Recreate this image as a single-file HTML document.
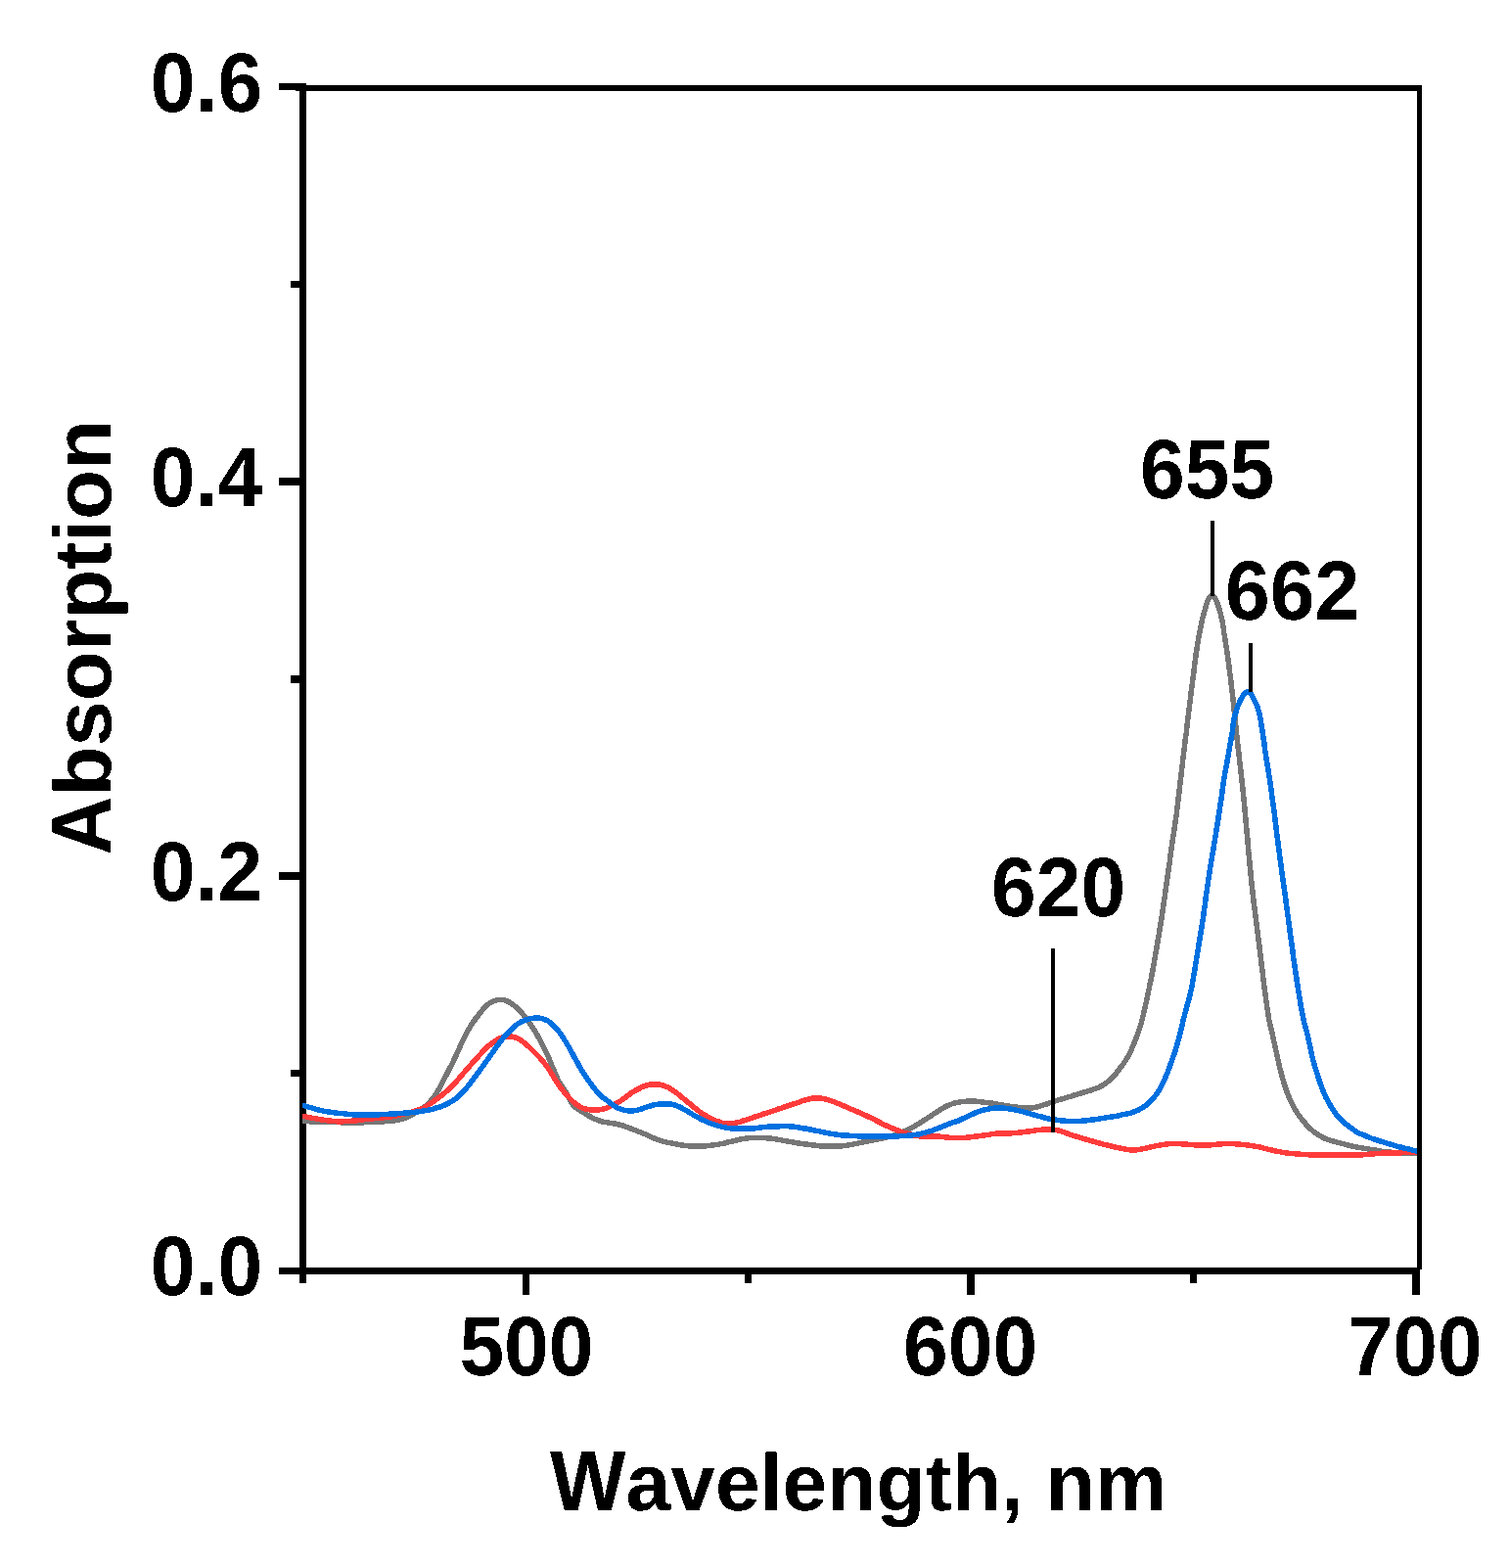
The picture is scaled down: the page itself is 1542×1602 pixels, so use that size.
<!DOCTYPE html>
<html lang="en">
<head>
<meta charset="utf-8">
<title>Absorption spectra</title>
<style>
html,body{margin:0;padding:0;background:#fff;}
body{width:1542px;height:1602px;overflow:hidden;}
#chart{position:relative;width:1542px;height:1602px;background:#fff;overflow:hidden;}
#chart svg{position:absolute;left:0;top:0;display:block;}
.t{position:absolute;margin:0;padding:0;white-space:nowrap;color:#000;
   font-family:"Liberation Sans",Arial,Helvetica,sans-serif;font-weight:700;line-height:1;
   font-kerning:none;font-variant-ligatures:none;letter-spacing:0;text-rendering:geometricPrecision;filter:url(#hardt);}
.t span{display:inline-block;}
.c{fill:none;stroke-width:5.5;stroke-linejoin:round;stroke-linecap:butt;}
</style>
</head>
<body>
<div id="chart">
<svg width="1542" height="1602" viewBox="0 0 1542 1602">
<defs>
<filter id="hard" x="0" y="0" width="100%" height="100%" filterUnits="userSpaceOnUse" color-interpolation-filters="sRGB">
<feComponentTransfer><feFuncA type="discrete" tableValues="0 1"/></feComponentTransfer>
</filter>
<filter id="hardt" x="-0.1" y="-0.4" width="1.2" height="1.8" color-interpolation-filters="sRGB">
<feComponentTransfer><feFuncA type="discrete" tableValues="0 1"/></feComponentTransfer>
</filter>
</defs>
<rect width="1542" height="1602" fill="#fff"/>
<g fill="#000" shape-rendering="crispEdges">
<rect x="306" y="85" width="7" height="1226"/>
<rect x="302" y="87" width="1151" height="6"/>
<rect x="1448" y="87" width="5" height="1210"/>
<rect x="285" y="1295" width="1166" height="7"/>
<rect x="285" y="85" width="28" height="7"/>
<rect x="285" y="488" width="28" height="8"/>
<rect x="285" y="891" width="28" height="8"/>
<rect x="297" y="287" width="16" height="7"/>
<rect x="297" y="690" width="16" height="8"/>
<rect x="297" y="1093" width="16" height="7"/>
<rect x="534" y="1295" width="7" height="28"/>
<rect x="988" y="1295" width="8" height="28"/>
<rect x="1443" y="1295" width="8" height="28"/>
<rect x="761" y="1295" width="7" height="16"/>
<rect x="1216" y="1295" width="7" height="16"/>
</g>
<clipPath id="plot"><rect x="309" y="93" width="1139" height="1202"/></clipPath>
<g class="c" clip-path="url(#plot)">
<path filter="url(#hard)" stroke="#767676" d="M303.5 1145.2l6 0.2l1.1 0l1.2 0.1l1.5 0l1.5 0.1l1.6 0.1l1.8 0l1.9 0.1l1.9 0.1l2.1 0l2 0.1l2.2 0.1l2.2 0.1l2.2 0.1l2.3 0l2.2 0.1l2.2 0.1l2.2 0l2.2 0.1l2.1 0l2 0.1l2.1 -0l2 0l2 0l2 0l2.1 0l2 0l2.1 0l2 0l2.1 0l2 0l2 -0l2.1 -0l1.9 -0.1l2 -0l1.9 -0.1l2 -0l1.8 -0.1l1.9 -0l1.8 -0.1l1.7 -0.1l1.8 -0.2l2 -0.1l1.9 -0.2l2.1 -0.1l2.2 -0.2l2.1 -0.2l2 -0.2l1.9 -0.3l1.9 -0.2l1.8 -0.4l1.8 -0.3l1.6 -0.4l1.7 -0.4l1.5 -0.5l1.7 -0.7l1.7 -0.8l1.8 -0.9l1.7 -1l1.7 -0.9l1.6 -1l1.4 -0.8l1.4 -0.8l1.3 -0.8l1.4 -0.8l1.3 -0.9l1.4 -0.9l1.3 -0.9l1.3 -1l1.2 -1.1l1.3 -1.2l1.2 -1.2l1.2 -1.3l1.2 -1.4l1.1 -1.4l1.2 -1.5l1 -1.5l1.1 -1.6l1 -1.7l1 -1.7l1 -1.7l1 -1.7l1 -1.8l0.9 -1.8l1 -1.8l1 -1.8l0.9 -1.8l0.9 -1.7l0.9 -1.8l0.9 -1.8l0.9 -1.7l0.9 -1.7l0.9 -1.7l0.8 -1.7l0.9 -1.7l0.8 -1.6l0.8 -1.6l0.8 -1.6l0.7 -1.5l0.8 -1.6l0.7 -1.5l0.7 -1.5l0.7 -1.6l0.7 -1.7l0.8 -1.7l0.8 -1.7l0.7 -1.7l0.8 -1.8l0.8 -1.7l0.8 -1.7l0.8 -1.7l0.8 -1.6l0.8 -1.6l0.8 -1.7l0.9 -1.7l0.9 -1.7l1 -1.7l1 -1.6l0.9 -1.6l1 -1.6l1 -1.5l1 -1.5l1 -1.5l1.1 -1.5l1.1 -1.5l1.2 -1.4l1.1 -1.5l1.1 -1.5l1.2 -1.5l1.2 -1.5l1.3 -1.5l1.3 -1.5l1.3 -1.4l1.4 -1.3l1.4 -1.1l1.5 -1l1.5 -0.9l1.6 -0.7l1.6 -0.7l1.6 -0.5l1.6 -0.4l1.6 -0.2l1.6 -0.1l1.7 0.1l1.6 0.3l1.6 0.5l1.6 0.6l1.6 0.8l1.6 0.9l1.6 1.1l1.5 1.1l1.4 1.2l1.4 1.2l1.4 1.2l1.3 1.2l1.3 1.3l1.3 1.4l1.2 1.4l1.2 1.4l1.1 1.4l1.1 1.4l1.2 1.5l1.1 1.5l1.1 1.5l1 1.5l1 1.6l1 1.5l1 1.5l1 1.5l1 1.6l0.9 1.6l1 1.6l0.9 1.7l0.9 1.6l0.9 1.6l0.9 1.7l0.9 1.7l0.8 1.7l0.9 1.7l0.9 1.7l0.8 1.7l0.9 1.7l0.9 1.8l0.8 1.8l0.9 1.9l0.9 1.9l0.8 2.1l0.9 2.1l0.9 2.1l0.8 2.1l0.9 2.1l0.9 2.1l0.8 2l0.9 2.1l0.9 2l0.8 1.8l0.9 1.8l0.8 1.6l0.9 1.5l0.9 1.4l0.9 1.4l0.9 1.4l0.9 1.4l0.9 1.4l0.9 1.4l0.9 1.3l0.8 1.4l0.9 1.5l0.8 1.5l0.8 1.5l0.8 1.7l0.8 1.6l0.9 1.6l1.1 1.5l1.1 1.3l1.3 1.3l1.5 1.2l1.6 1.1l1.6 1l1.7 1.1l1.8 1.1l1.7 1l1.6 1.1l1.6 0.9l1.6 1l1.5 0.8l1.5 0.9l1.6 0.8l1.6 0.7l1.7 0.7l1.7 0.7l1.7 0.5l1.7 0.5l1.7 0.3l1.7 0.3l1.8 0.3l1.8 0.2l1.9 0.3l1.8 0.3l1.9 0.3l1.8 0.3l1.8 0.4l1.8 0.5l1.7 0.5l1.8 0.5l1.7 0.6l1.8 0.6l1.7 0.6l1.8 0.7l1.7 0.6l1.8 0.7l1.7 0.7l1.7 0.7l1.8 0.7l1.7 0.7l1.8 0.7l1.8 0.8l1.8 0.7l1.8 0.8l1.7 0.8l1.8 0.8l1.7 0.8l1.8 0.7l1.8 0.7l1.8 0.7l1.9 0.6l1.9 0.6l1.9 0.6l2 0.5l1.9 0.5l1.9 0.4l2 0.4l1.9 0.4l2 0.3l1.9 0.4l2 0.4l1.9 0.3l2 0.3l1.9 0.3l2 0.2l1.9 0.2l2 0.1l1.9 0.2l2 0l1.9 0.1l1.9 0l2 -0l1.9 -0.1l2 -0l1.9 -0.2l1.9 -0.1l2 -0.2l1.9 -0.2l1.9 -0.2l1.9 -0.3l1.9 -0.2l1.9 -0.3l1.8 -0.4l1.9 -0.4l1.8 -0.4l1.8 -0.4l1.8 -0.4l1.8 -0.4l1.7 -0.4l1.7 -0.5l1.8 -0.4l1.9 -0.4l1.8 -0.4l1.9 -0.5l1.8 -0.4l1.8 -0.3l1.8 -0.4l1.7 -0.2l1.9 -0.2l1.8 -0.2l1.8 -0.1l1.9 -0.1l1.8 0l1.9 0l1.8 0l1.9 0.1l1.8 0l1.9 0.1l1.8 0.2l1.9 0.1l1.8 0.2l1.9 0.2l1.9 0.3l1.9 0.2l1.9 0.3l1.8 0.4l1.9 0.3l1.8 0.3l1.9 0.3l1.9 0.4l1.8 0.3l1.9 0.3l1.9 0.4l1.8 0.3l1.9 0.3l1.7 0.3l1.8 0.2l1.7 0.3l1.8 0.2l1.9 0.3l1.9 0.3l2 0.3l1.9 0.3l1.9 0.3l1.8 0.2l2 0.2l2 0.2l2 0.2l2 0.2l2.1 0.1l2 0.1l2 0.1l1.9 0.1l2 -0l2 -0.1l1.9 -0l2 -0.1l1.9 -0.1l2 -0.1l1.9 -0.2l2 -0.2l1.9 -0.3l1.9 -0.2l2 -0.4l1.9 -0.3l2 -0.4l1.9 -0.4l1.9 -0.4l2 -0.5l1.9 -0.4l2 -0.4l1.9 -0.4l2 -0.4l2 -0.4l2.1 -0.4l2 -0.4l2 -0.4l2 -0.4l2 -0.4l1.8 -0.3l1.9 -0.5l1.9 -0.4l1.9 -0.5l1.9 -0.5l1.9 -0.5l1.8 -0.6l1.7 -0.5l1.7 -0.6l1.7 -0.6l1.7 -0.6l1.6 -0.6l1.7 -0.6l1.6 -0.6l1.6 -0.7l1.7 -0.7l1.6 -0.7l1.6 -0.8l1.6 -0.8l1.7 -0.9l1.6 -1l1.6 -1l1.6 -1l1.7 -1l1.6 -1l1.6 -1l1.6 -1.1l1.6 -1l1.6 -1.1l1.7 -1l1.6 -1.1l1.6 -1l1.6 -1.1l1.6 -1l1.6 -1.1l1.6 -1l1.7 -1.1l1.6 -1l1.6 -1l1.7 -1l1.6 -0.8l1.8 -0.8l1.7 -0.8l1.9 -0.6l1.9 -0.6l1.8 -0.5l1.9 -0.4l1.8 -0.3l1.8 -0.3l1.8 -0.3l1.8 -0.2l1.8 -0.1l1.9 -0.1l1.9 -0.1l1.9 0l1.9 0l1.9 0.1l1.8 0.1l1.9 0.2l2 0.2l2.1 0.3l2 0.2l2.1 0.3l2 0.3l2 0.2l1.9 0.3l2 0.3l2 0.4l1.9 0.3l2 0.3l1.9 0.4l2 0.3l1.9 0.3l2 0.3l1.9 0.3l2 0.3l2 0.3l2 0.3l2.1 0.2l2 0.3l2 0.2l1.9 0.2l1.8 0.1l1.9 0l1.9 0l1.9 -0.1l1.9 -0.2l1.9 -0.3l1.8 -0.4l1.8 -0.4l1.7 -0.5l1.7 -0.5l1.6 -0.5l1.6 -0.5l1.5 -0.5l1.6 -0.6l1.5 -0.6l1.7 -0.6l1.7 -0.6l1.7 -0.6l1.7 -0.5l1.7 -0.5l1.7 -0.5l1.7 -0.5l1.8 -0.6l1.8 -0.5l1.9 -0.6l1.8 -0.5l1.9 -0.6l1.8 -0.5l1.8 -0.6l1.8 -0.6l1.9 -0.5l1.8 -0.6l1.9 -0.5l1.8 -0.6l1.8 -0.5l1.8 -0.5l1.8 -0.6l1.7 -0.5l1.7 -0.6l1.7 -0.6l1.7 -0.6l1.7 -0.6l1.7 -0.7l1.6 -0.6l1.5 -0.7l1.5 -0.8l1.5 -0.9l1.5 -1l1.5 -1.1l1.5 -1.1l1.5 -1.3l1.5 -1.3l1.4 -1.4l1.5 -1.5l1.4 -1.6l1.3 -1.7l1.4 -1.7l1.2 -1.7l1.3 -1.7l1.2 -1.6l1.1 -1.5l1.2 -1.5l1.1 -1.6l1.1 -1.7l1.1 -1.7l0.9 -1.7l1 -1.7l0.8 -1.7l0.9 -1.6l0.8 -1.8l0.8 -1.8l0.7 -1.8l0.8 -1.8l0.8 -1.8l0.7 -1.8l0.7 -1.8l0.7 -1.7l0.6 -1.7l0.7 -1.7l0.6 -1.7l0.6 -1.7l0.5 -1.6l0.5 -1.6l0.5 -1.6l0.5 -1.7l0.6 -1.8l0.4 -1.8l0.5 -1.8l0.5 -1.8l0.4 -1.8l0.5 -1.7l0.4 -1.8l0.4 -1.9l0.4 -1.8l0.5 -1.9l0.4 -2l0.4 -1.9l0.5 -2l0.4 -1.9l0.4 -2l0.4 -1.9l0.4 -1.8l0.4 -1.9l0.4 -1.9l0.4 -1.8l0.4 -1.9l0.3 -1.8l0.4 -1.9l0.4 -1.8l0.4 -1.9l0.3 -1.8l0.4 -1.9l0.3 -1.8l0.4 -1.9l0.4 -1.8l0.3 -1.9l0.3 -1.8l0.4 -1.9l0.3 -1.8l0.3 -1.9l0.4 -1.8l0.3 -1.9l0.3 -1.8l0.3 -1.9l0.3 -1.8l0.4 -1.9l0.3 -1.8l0.3 -1.9l0.3 -1.8l0.3 -1.9l0.3 -1.8l0.3 -1.9l0.4 -1.8l0.3 -1.9l0.3 -1.9l0.3 -1.8l0.3 -1.9l0.3 -1.8l0.3 -1.9l0.3 -1.9l0.3 -1.8l0.3 -1.9l0.3 -1.8l0.3 -1.9l0.3 -1.8l0.3 -1.9l0.2 -1.8l0.3 -1.9l0.3 -1.8l0.2 -1.9l0.3 -1.8l0.3 -1.9l0.2 -1.8l0.3 -1.9l0.2 -1.8l0.3 -1.9l0.2 -1.8l0.3 -1.9l0.3 -1.8l0.2 -1.9l0.3 -1.8l0.3 -1.9l0.2 -1.9l0.3 -1.8l0.3 -1.9l0.2 -1.8l0.3 -1.9l0.3 -1.9l0.2 -1.8l0.3 -1.9l0.2 -1.8l0.3 -1.9l0.3 -1.8l0.2 -1.9l0.3 -1.8l0.2 -1.9l0.3 -1.8l0.2 -1.8l0.3 -1.9l0.2 -1.8l0.3 -1.9l0.3 -1.8l0.2 -1.9l0.3 -1.8l0.2 -1.9l0.3 -1.8l0.3 -1.9l0.2 -1.7l0.3 -1.8l0.3 -1.7l0.2 -1.7l0.3 -1.7l0.3 -1.7l0.2 -1.8l0.3 -1.9l0.3 -2l0.3 -2.1l0.3 -2.2l0.3 -2.2l0.3 -2.1l0.3 -2l0.2 -1.8l0.2 -1.7l0.2 -1.7l0.3 -1.8l0.2 -1.8l0.2 -1.9l0.2 -1.9l0.3 -1.9l0.2 -2l0.2 -2l0.3 -2.1l0.2 -2l0.2 -2.1l0.3 -2.1l0.2 -2l0.3 -2.1l0.2 -2.1l0.3 -2.1l0.2 -2.1l0.3 -2l0.2 -2.1l0.2 -2l0.3 -2l0.2 -2l0.2 -1.9l0.3 -2l0.2 -1.9l0.2 -2l0.3 -1.9l0.2 -2l0.3 -2l0.2 -1.9l0.2 -2l0.3 -2l0.2 -1.9l0.2 -2l0.3 -1.9l0.2 -2l0.2 -1.9l0.3 -2l0.2 -1.9l0.3 -2l0.2 -1.9l0.2 -2l0.3 -1.9l0.2 -1.9l0.2 -2l0.3 -1.9l0.2 -1.9l0.2 -2l0.3 -1.9l0.2 -2l0.3 -2l0.2 -2l0.3 -2l0.2 -1.9l0.2 -2l0.3 -2l0.2 -1.9l0.3 -2l0.2 -1.9l0.3 -2l0.2 -1.9l0.2 -2l0.3 -1.9l0.2 -1.9l0.3 -1.9l0.2 -1.9l0.2 -1.9l0.3 -1.9l0.2 -1.9l0.3 -1.9l0.2 -1.9l0.3 -2l0.2 -2.1l0.3 -2l0.3 -2.1l0.2 -2.1l0.3 -2l0.2 -2.1l0.3 -2.1l0.3 -2l0.2 -2.1l0.3 -2l0.4 -2l0.3 -2l0.3 -1.9l0.3 -1.9l0.3 -1.9l0.3 -1.9l0.3 -1.8l0.3 -1.8l0.3 -1.7l0.3 -1.7l0.3 -1.7l0.5 -2.3l0.4 -2.3l0.5 -2.2l0.4 -2.2l0.5 -2.1l0.5 -2.1l0.4 -2l0.5 -1.9l0.5 -1.8l0.5 -1.8l0.5 -1.6l0.4 -1.6l0.5 -1.5l0.3 -1.4l0.4 -1.3l1 -2.9l1 -2.5l1 -1.9l1 -1.4l1.1 -0.6l1.2 0.1l1 0.6l0.9 0.9l0.9 1.3l0.9 1.6l0.9 1.9l0.8 2.1l0.8 2.4l0.8 2.5l0.8 2.6l0.4 1.5l0.4 1.6l0.4 1.6l0.3 1.7l0.4 1.8l0.4 1.8l0.3 1.9l0.3 2l0.4 2l0.3 2l0.3 2.1l0.3 2.2l0.4 2.1l0.3 2.2l0.3 2.2l0.4 2.2l0.3 2.2l0.3 1.8l0.2 1.7l0.3 1.8l0.3 1.8l0.2 1.8l0.3 1.8l0.3 1.8l0.2 1.9l0.3 1.9l0.2 1.9l0.3 1.9l0.3 1.9l0.2 2l0.3 2l0.3 2l0.2 2l0.3 2.1l0.3 2.1l0.2 2.1l0.3 2.2l0.2 2.1l0.3 2.2l0.2 1.8l0.2 1.8l0.2 1.8l0.2 1.8l0.2 1.9l0.2 1.9l0.3 1.9l0.2 1.9l0.2 1.9l0.2 2l0.2 2l0.2 2l0.2 2l0.2 2l0.2 2l0.2 2l0.2 2l0.2 2l0.2 2l0.2 2.1l0.2 2l0.3 2l0.2 2l0.2 1.9l0.2 2l0.2 2l0.2 1.9l0.2 1.9l0.2 2l0.2 2l0.3 1.9l0.2 2l0.2 2l0.2 1.9l0.2 2l0.3 1.9l0.2 2l0.2 1.9l0.2 2l0.3 1.9l0.2 1.9l0.2 2l0.2 1.9l0.3 1.9l0.2 2l0.2 1.9l0.2 1.9l0.2 2l0.2 1.9l0.3 1.9l0.2 2l0.2 1.9l0.2 1.9l0.2 2l0.2 1.9l0.2 2l0.2 2l0.2 2l0.2 2.1l0.2 2l0.2 2.1l0.2 2.1l0.2 2.1l0.2 2.1l0.2 2.1l0.2 2.1l0.2 2.1l0.2 2l0.2 2.1l0.1 2l0.2 2l0.2 2l0.2 2l0.2 1.9l0.1 1.9l0.2 1.8l0.2 1.8l0.1 1.7l0.2 1.7l0.1 1.6l0.2 1.8l0.2 2l0.1 2l0.2 2.2l0.3 2.2l0.1 2.1l0.2 1.9l0.2 1.8l0.1 1.7l0.2 1.6l0.1 1.5l0.2 1.6l0.1 1.6l0.2 1.6l0.1 1.7l0.2 1.8l0.2 1.8l0.2 1.8l0.1 1.9l0.2 1.8l0.2 1.9l0.2 1.9l0.1 1.8l0.2 1.9l0.2 1.8l0.2 1.9l0.2 1.9l0.2 1.8l0.2 1.9l0.2 1.8l0.2 1.9l0.2 1.8l0.2 1.9l0.3 1.8l0.2 1.9l0.2 1.8l0.3 1.9l0.2 1.8l0.2 1.9l0.3 1.8l0.2 1.9l0.2 1.8l0.3 1.9l0.2 1.8l0.2 1.9l0.3 1.8l0.2 1.9l0.2 1.8l0.3 1.9l0.2 1.9l0.2 1.8l0.3 1.9l0.2 1.8l0.3 1.9l0.2 1.9l0.2 1.8l0.3 1.9l0.2 1.8l0.2 1.9l0.3 1.8l0.2 1.9l0.2 1.8l0.2 1.9l0.3 1.8l0.2 1.9l0.2 1.8l0.3 1.9l0.2 1.8l0.2 1.9l0.2 1.8l0.3 1.9l0.2 1.8l0.2 1.9l0.2 1.8l0.3 1.9l0.2 1.8l0.2 1.9l0.2 1.8l0.3 1.9l0.2 1.8l0.2 1.9l0.2 1.8l0.3 1.9l0.2 1.8l0.3 1.9l0.2 1.9l0.3 1.9l0.2 1.9l0.3 1.9l0.3 2l0.3 1.9l0.2 2l0.3 2l0.3 1.9l0.3 1.9l0.3 1.8l0.3 1.8l0.2 1.7l0.4 1.8l0.3 1.8l0.4 1.9l0.3 1.9l0.4 1.8l0.5 1.8l0.4 1.7l0.4 1.9l0.5 1.8l0.4 1.9l0.4 1.9l0.4 1.9l0.4 1.8l0.4 1.8l0.5 2l0.4 2l0.4 2l0.5 2l0.4 2l0.5 2l0.4 2l0.4 2l0.5 1.9l0.4 1.9l0.5 1.9l0.4 1.9l0.5 1.9l0.4 1.8l0.5 1.9l0.5 1.9l0.4 1.8l0.5 1.8l0.4 1.7l0.5 1.7l0.5 1.7l0.5 1.8l0.6 1.9l0.6 1.9l0.6 2l0.7 1.8l0.6 1.8l0.7 1.7l0.6 1.7l0.7 1.7l0.7 1.7l0.8 1.8l0.7 1.7l0.9 1.7l0.8 1.7l0.8 1.6l0.9 1.5l0.9 1.6l0.9 1.5l1 1.5l0.9 1.5l1 1.4l1 1.4l1.1 1.4l1.1 1.4l1.1 1.4l1.2 1.4l1.1 1.4l1.2 1.3l1.2 1.3l1.2 1.2l1.1 1.2l1.3 1.1l1.3 1.2l1.3 1l1.4 1.1l1.4 1l1.5 0.9l1.4 0.9l1.5 0.9l1.4 0.9l1.4 0.7l1.4 0.7l1.5 0.6l1.5 0.5l1.6 0.6l1.7 0.5l1.9 0.5l1.9 0.4l2 0.6l2 0.5l1.9 0.5l1.8 0.5l1.7 0.4l1.7 0.5l1.7 0.5l1.6 0.4l1.8 0.5l1.8 0.4l1.8 0.4l1.9 0.3l1.9 0.4l2 0.3l1.9 0.3l2 0.3l1.9 0.4l2 0.3l2 0.3l1.9 0.3l1.9 0.3l1.8 0.3l1.7 0.3l1.6 0.4l1.7 0.3l2 0.3l2 0.3l2 0.2l2.1 0.2l2.1 0.2l1.9 0.1l2 0.2l2.2 0.1l2.2 0.1l2.3 0.2l2.3 0.1l2.3 0.1l2.3 0.1l2.1 0.1l2 0.1l1.9 0l1.8 0.1l1.5 0.1l1.1 0l6 -1.1"/>
<path filter="url(#hard)" stroke="#ff3b3b" d="M303.5 1139.2l6 1.2l1.1 0.2l1.7 0.3l1.6 0.4l1.8 0.3l2 0.4l2.1 0.4l2.2 0.4l2.1 0.4l2.2 0.4l2.1 0.4l2.1 0.3l2 0.3l1.9 0.2l1.9 0.3l2 0.2l1.8 0.2l1.9 0.1l1.8 0.1l2 0.1l1.9 -0l2 -0l1.9 -0.1l1.9 -0.1l1.8 -0.1l1.8 -0.1l1.8 -0.2l1.8 -0.1l1.9 -0.2l1.9 -0.2l1.9 -0.2l1.9 -0.3l1.9 -0.2l1.9 -0.2l1.9 -0.2l1.9 -0.2l1.9 -0.2l1.9 -0.2l1.9 -0.2l1.9 -0.2l1.9 -0.2l2 -0.1l1.9 -0.2l1.9 -0.2l1.9 -0.2l1.9 -0.2l1.8 -0.3l1.8 -0.2l1.8 -0.3l1.8 -0.3l1.8 -0.3l1.8 -0.4l1.9 -0.4l1.8 -0.5l1.8 -0.4l1.7 -0.5l1.7 -0.4l1.7 -0.4l1.7 -0.4l1.7 -0.4l1.7 -0.5l1.8 -0.5l1.7 -0.5l1.9 -0.6l1.8 -0.6l1.9 -0.6l1.7 -0.9l1.8 -0.9l1.7 -1.1l1.6 -1l1.6 -1.2l1.7 -1.1l1.6 -1l1.5 -1.2l1.6 -1l1.5 -1.2l1.5 -1.1l1.4 -1.1l1.5 -1.1l1.4 -1.1l1.3 -1.2l1.4 -1.1l1.3 -1.2l1.3 -1.2l1.3 -1.2l1.2 -1.2l1.2 -1.2l1.2 -1.2l1.2 -1.3l1.2 -1.3l1.2 -1.3l1.1 -1.3l1.2 -1.3l1.1 -1.3l1.2 -1.3l1.1 -1.3l1.1 -1.3l1.2 -1.3l1.1 -1.3l1.1 -1.3l1.2 -1.3l1.1 -1.3l1.1 -1.3l1.2 -1.3l1.1 -1.3l1.2 -1.3l1.2 -1.3l1.3 -1.4l1.2 -1.4l1.3 -1.4l1.2 -1.4l1.3 -1.4l1.4 -1.5l1.3 -1.4l1.3 -1.4l1.4 -1.4l1.4 -1.3l1.4 -1.3l1.5 -1.2l1.4 -1.2l1.5 -1.1l1.5 -1l1.6 -0.9l1.5 -1l1.6 -0.8l1.5 -0.7l1.6 -0.6l1.6 -0.5l1.7 -0.3l1.7 -0.2l1.7 -0.1l1.7 0l1.7 0.2l1.8 0.4l1.7 0.6l1.7 0.6l1.6 0.8l1.7 0.9l1.5 1.1l1.6 1.1l1.5 1.2l1.4 1.2l1.4 1.2l1.4 1.2l1.3 1.3l1.3 1.3l1.3 1.3l1.3 1.3l1.3 1.3l1.3 1.3l1.3 1.3l1.3 1.3l1.3 1.4l1.2 1.4l1.2 1.4l1.1 1.5l1.2 1.4l1.1 1.4l1.1 1.5l1.1 1.6l1.1 1.7l1.1 1.7l1.1 1.8l1.1 1.8l1.1 1.7l1.1 1.8l1.1 1.8l1 1.6l1.1 1.6l1 1.5l1 1.5l1 1.4l1.2 1.5l1.1 1.5l1.3 1.5l1.2 1.5l1.3 1.4l1.3 1.4l1.3 1.4l1.4 1.5l1.4 1.4l1.4 1.3l1.5 1.3l1.4 1.1l1.4 1l1.4 1l1.6 0.9l1.7 0.8l1.7 0.7l1.9 0.5l1.8 0.5l1.8 0.3l1.8 0.2l1.8 0.1l1.8 0l1.9 0l1.8 -0.1l1.9 -0.2l1.8 -0.4l1.8 -0.4l1.8 -0.6l1.7 -0.6l1.7 -0.7l1.6 -0.7l1.6 -0.8l1.6 -0.8l1.6 -0.8l1.6 -0.8l1.6 -0.9l1.6 -0.9l1.5 -0.9l1.4 -1l1.5 -1l1.4 -1.1l1.4 -1.1l1.5 -1.1l1.4 -1l1.4 -1.1l1.5 -1l1.6 -1l1.6 -0.9l1.7 -1l1.6 -0.8l1.7 -0.8l1.6 -0.8l1.6 -0.7l1.7 -0.7l1.7 -0.5l1.7 -0.4l1.7 -0.4l1.7 -0.2l1.7 -0.1l1.7 0l1.7 0.1l1.7 0.2l1.7 0.2l1.8 0.4l1.7 0.4l1.7 0.6l1.7 0.7l1.6 0.7l1.6 0.9l1.7 1l1.7 1.1l1.6 1.2l1.6 1.2l1.5 1.2l1.5 1.2l1.4 1.2l1.5 1.2l1.4 1.2l1.5 1.2l1.5 1.1l1.4 1.2l1.5 1.2l1.4 1.2l1.5 1.2l1.4 1.2l1.5 1.2l1.4 1.2l1.5 1.1l1.4 1.1l1.5 1.1l1.5 1l1.5 1l1.6 0.9l1.6 1l1.6 0.9l1.7 0.8l1.6 0.8l1.6 0.8l1.7 0.8l1.8 0.7l1.8 0.7l1.9 0.7l1.8 0.6l1.9 0.5l1.8 0.3l1.9 0.2l1.9 0l1.8 -0.1l1.9 -0.3l1.8 -0.3l1.9 -0.5l1.8 -0.4l1.9 -0.5l1.9 -0.6l1.8 -0.5l1.9 -0.6l1.8 -0.7l1.9 -0.6l1.9 -0.6l1.8 -0.7l1.8 -0.6l1.9 -0.6l1.8 -0.6l1.9 -0.6l1.8 -0.6l1.9 -0.6l1.8 -0.6l1.9 -0.6l1.8 -0.6l1.9 -0.6l1.8 -0.7l1.9 -0.6l1.8 -0.6l1.9 -0.7l1.8 -0.6l1.8 -0.6l1.8 -0.6l1.8 -0.7l1.9 -0.6l1.8 -0.6l1.9 -0.6l1.8 -0.6l1.9 -0.6l1.8 -0.6l1.9 -0.7l1.9 -0.6l1.8 -0.7l1.9 -0.6l1.7 -0.5l1.8 -0.5l1.8 -0.5l1.7 -0.4l1.7 -0.4l1.7 -0.3l1.7 -0.1l1.6 -0l1.7 0l1.7 0.2l1.8 0.3l1.8 0.3l1.9 0.4l1.9 0.5l1.8 0.6l1.9 0.5l1.7 0.7l1.8 0.6l1.6 0.6l1.7 0.7l1.7 0.8l1.8 0.7l1.8 0.8l1.8 0.8l1.8 0.7l1.7 0.8l1.7 0.7l1.8 0.7l1.7 0.8l1.8 0.7l1.8 0.8l1.8 0.8l1.8 0.8l1.8 0.8l1.8 0.8l1.8 0.8l1.8 0.8l1.9 0.8l1.8 0.9l1.9 0.9l1.8 0.9l1.8 1l1.8 1l1.8 0.9l1.7 0.9l1.7 0.9l1.8 0.9l1.9 0.9l1.8 0.8l1.9 0.8l1.8 0.7l1.7 0.7l1.8 0.7l1.8 0.7l1.8 0.7l1.8 0.7l1.9 0.6l1.8 0.7l1.9 0.5l1.8 0.5l1.9 0.5l1.9 0.4l1.8 0.4l1.9 0.4l1.8 0.3l1.9 0.3l1.9 0.2l1.8 0.1l1.8 0.1l1.9 0l1.8 -0l1.9 -0.1l1.8 -0.1l1.9 -0l1.8 0l1.9 0.1l1.8 0.2l1.9 0.1l1.8 0.2l1.9 0.2l1.8 0.2l1.9 0.2l1.8 0.1l1.8 0.2l1.7 0.1l1.9 0.1l1.8 0l1.9 0l1.9 -0l2 -0.1l1.9 -0.1l1.9 -0.2l2 -0.2l2 -0.2l2.1 -0.3l2 -0.3l2.1 -0.2l2 -0.3l2 -0.2l1.9 -0.3l1.9 -0.3l2 -0.2l1.9 -0.3l2 -0.3l1.9 -0.3l2 -0.2l1.9 -0.3l2 -0.1l2 -0.2l1.9 -0.1l2 -0l1.9 -0.1l2 0l1.9 0l2 -0l1.9 -0.1l2 -0.1l1.9 -0.1l2 -0.2l2 -0.2l2 -0.3l2.1 -0.2l2 -0.3l2 -0.3l1.9 -0.3l1.8 -0.3l1.9 -0.2l2 -0.3l1.9 -0.3l1.9 -0.2l2 -0.2l1.8 -0.2l1.7 -0.2l1.8 -0.1l1.7 -0l1.6 0l1.7 0.1l1.7 0.2l1.7 0.2l1.7 0.3l1.7 0.4l1.6 0.5l1.7 0.5l1.6 0.5l1.7 0.6l1.7 0.6l1.8 0.6l1.8 0.6l1.9 0.7l1.7 0.6l1.8 0.5l1.8 0.6l1.7 0.5l1.7 0.5l1.8 0.6l1.8 0.5l1.9 0.5l1.8 0.6l1.8 0.5l1.8 0.5l1.8 0.5l1.8 0.5l1.8 0.5l1.9 0.6l1.8 0.5l1.9 0.5l1.8 0.5l1.8 0.4l1.7 0.5l1.7 0.4l1.8 0.5l1.8 0.4l1.8 0.4l2 0.4l1.9 0.4l1.8 0.4l1.8 0.3l1.8 0.4l1.7 0.3l1.7 0.3l1.8 0.3l1.8 0.3l1.8 0.1l1.8 0.1l1.8 -0.1l2 -0.1l1.9 -0.3l2 -0.3l2 -0.3l1.9 -0.4l2 -0.4l1.8 -0.4l1.9 -0.4l1.8 -0.4l1.9 -0.4l1.8 -0.5l1.9 -0.3l1.9 -0.4l1.8 -0.4l1.9 -0.3l1.8 -0.3l1.9 -0.2l1.8 -0.3l1.9 -0.1l1.9 -0.1l1.8 -0l1.9 -0l1.8 0.1l1.9 0l1.9 0.1l1.8 0.1l1.8 0.2l1.9 0.1l1.8 0.1l1.9 0.2l1.8 0.2l1.9 0.1l1.8 0.1l1.9 0.1l1.8 0.1l1.9 0.1l1.8 0l1.9 0l1.8 0l1.9 -0l1.9 -0.1l1.8 -0.2l1.9 -0.2l1.8 -0.2l1.9 -0.2l1.9 -0.2l1.8 -0.1l1.8 -0.2l1.9 -0.1l1.8 -0l1.9 -0.1l1.8 -0l1.9 0l1.8 0.1l1.9 0.1l1.8 0.1l1.9 0.2l1.8 0.2l1.9 0.2l1.8 0.2l1.9 0.2l1.9 0.3l1.8 0.2l1.9 0.3l1.8 0.3l1.9 0.3l1.8 0.3l1.9 0.4l1.9 0.4l1.8 0.4l1.9 0.5l1.8 0.4l1.9 0.5l1.8 0.5l1.9 0.4l1.8 0.4l1.8 0.4l1.7 0.4l1.8 0.3l1.9 0.4l1.9 0.3l1.8 0.3l1.8 0.2l1.8 0.3l1.8 0.2l1.8 0.2l1.9 0.2l2 0.2l2 0.2l2 0.2l2 0.1l1.9 0.1l1.9 0.1l1.8 0.1l2 0.1l1.9 0.1l2 0l2 0.1l2 0l2 0.1l2 0l2 0.1l2 0l2 0l2 0.1l2 -0l2 -0l2 -0l2 -0l2 -0l2 -0l1.9 -0l1.9 -0l1.9 -0.1l1.9 0l2 0l2 -0l2 -0l1.9 -0.1l1.9 -0l1.9 -0.1l1.8 -0l1.9 -0.1l1.9 -0.1l1.9 -0.1l2 -0.2l1.9 -0.1l2 -0.2l1.9 -0.2l2 -0.1l1.9 -0.2l1.9 -0.1l2 -0.2l1.9 -0.1l1.9 -0.1l2 -0l1.9 -0.1l1.9 -0.1l1.9 -0l2 -0.1l2 -0l2 -0.1l2.1 -0l2.1 -0l2.2 -0.1l2.2 0l2.2 -0l2.1 -0l2 -0l2 -0.1l1.5 0l1.2 0l6 0"/>
<path filter="url(#hard)" stroke="#0070e0" d="M303.5 1127.7l6 1.7l1.1 0.3l1.4 0.4l1.7 0.5l1.8 0.5l1.9 0.5l2 0.6l2.1 0.6l2.2 0.6l2.2 0.6l2.2 0.5l2.1 0.5l2 0.4l1.9 0.3l1.9 0.3l1.8 0.3l1.8 0.2l1.9 0.3l1.8 0.2l1.9 0.2l1.9 0.2l1.9 0.2l1.9 0.2l1.9 0.2l1.9 0.2l1.9 0.2l1.9 0.1l1.9 0.2l2 0.1l2 0.1l2 0l2 0.1l2 -0l2 0l1.9 -0l2 -0l2 -0.1l2 0l2 -0l2 -0.1l2 -0l2.1 -0.1l2 -0.1l2.1 -0.1l2.1 -0.1l2 -0.1l2.1 -0.1l2 -0.1l2 -0.2l1.9 -0.1l1.9 -0.1l2 -0.1l1.9 -0.2l2 -0.1l2 -0.2l2.1 -0.1l1.9 -0.2l1.9 -0.2l1.9 -0.2l1.9 -0.2l1.8 -0.2l1.9 -0.2l2 -0.3l1.9 -0.3l2 -0.3l2 -0.3l2 -0.4l2 -0.4l1.9 -0.5l1.9 -0.5l1.8 -0.6l1.9 -0.6l1.8 -0.5l1.8 -0.7l1.8 -0.6l1.7 -0.7l1.7 -0.8l1.7 -0.8l1.6 -0.9l1.6 -0.9l1.5 -0.9l1.5 -1l1.4 -1.1l1.4 -1l1.4 -1.2l1.3 -1.2l1.2 -1.2l1.3 -1.2l1.2 -1.3l1.1 -1.3l1.2 -1.3l1.1 -1.4l1.1 -1.3l1.1 -1.4l1.1 -1.4l1.1 -1.3l1 -1.4l1.1 -1.4l1 -1.4l1 -1.3l1.1 -1.4l1 -1.4l1 -1.4l1 -1.3l1 -1.4l1 -1.4l1 -1.4l1 -1.4l1 -1.3l1 -1.4l1 -1.4l1 -1.4l1 -1.4l1 -1.4l1 -1.4l1.1 -1.5l1 -1.5l1.2 -1.6l1.1 -1.6l1.1 -1.6l1.1 -1.5l1.1 -1.6l1.1 -1.5l1.1 -1.5l1.2 -1.5l1.1 -1.5l1.1 -1.4l1.2 -1.5l1.2 -1.4l1.3 -1.4l1.3 -1.4l1.3 -1.4l1.4 -1.4l1.4 -1.4l1.4 -1.4l1.5 -1.4l1.5 -1.3l1.6 -1.1l1.5 -1l1.6 -0.9l1.5 -0.9l1.6 -0.7l1.6 -0.6l1.8 -0.6l1.9 -0.5l1.8 -0.5l2 -0.4l1.9 -0.2l1.9 -0.1l1.8 -0l1.9 0.1l2 0.3l1.9 0.5l1.8 0.7l1.8 0.8l1.6 1l1.6 1.1l1.5 1.2l1.4 1.3l1.4 1.4l1.4 1.4l1.3 1.5l1.3 1.6l1.2 1.6l1.2 1.6l1.1 1.6l1.1 1.6l1.1 1.6l1 1.6l1 1.6l1 1.6l0.9 1.6l0.9 1.5l0.8 1.5l0.8 1.4l0.8 1.5l0.9 1.7l1 1.7l0.9 1.7l0.9 1.8l1 1.7l0.9 1.7l1 1.7l0.9 1.8l1.1 1.9l1 1.8l1.1 1.8l1.1 1.8l1.1 1.7l1 1.6l1.1 1.6l1 1.6l1.1 1.6l1.1 1.6l1.2 1.5l1.1 1.6l1.1 1.5l1.2 1.5l1.1 1.4l1 1.4l1.1 1.3l1 1.3l1.1 1.3l1.2 1.2l1.2 1.2l1.2 1.1l1.3 1l1.3 0.9l1.3 0.9l1.3 0.9l1.4 1.1l1.4 1.1l1.5 1.2l1.6 1.2l1.5 1.1l1.7 1l1.6 0.9l1.7 0.8l1.7 0.6l1.8 0.6l1.7 0.5l1.8 0.4l1.7 0.2l1.7 0.2l1.7 0.1l1.7 -0.1l1.7 -0.2l1.7 -0.3l1.7 -0.4l1.7 -0.4l1.7 -0.5l1.7 -0.6l1.7 -0.6l1.7 -0.6l1.7 -0.6l1.7 -0.5l1.8 -0.5l1.7 -0.5l1.7 -0.4l1.8 -0.4l1.7 -0.3l1.8 -0.2l1.8 -0.1l1.8 -0.1l1.8 -0l1.8 -0l1.8 0.1l1.7 0.1l1.8 0.3l1.8 0.3l1.8 0.5l1.7 0.6l1.7 0.8l1.7 0.8l1.8 0.9l1.7 0.9l1.7 0.9l1.7 1l1.6 1l1.6 1l1.7 1l1.6 1l1.7 1l1.6 1l1.7 0.9l1.6 0.8l1.6 0.9l1.7 0.7l1.6 0.8l1.6 0.7l1.7 0.7l1.6 0.7l1.7 0.6l1.8 0.7l1.8 0.6l1.8 0.6l1.9 0.5l1.8 0.5l1.8 0.5l1.9 0.4l1.8 0.3l1.8 0.4l1.8 0.2l1.8 0.2l1.9 0.2l1.9 0.2l1.8 0.1l1.9 0.1l1.9 -0l1.9 -0l2 -0l1.9 -0.1l2 -0l1.9 -0.1l1.9 -0.1l1.9 -0.1l1.8 -0.2l1.9 -0.2l1.8 -0.2l1.9 -0.3l1.7 -0.2l1.8 -0.2l1.8 -0.2l1.9 -0.2l1.8 -0.1l1.9 -0.1l1.8 -0.1l1.9 -0.1l1.8 -0l1.9 -0.1l1.8 -0l1.8 -0.1l1.8 0l1.8 -0l1.9 0l1.8 0.1l1.9 0.2l1.8 0.1l1.8 0.3l1.8 0.2l1.8 0.3l1.9 0.3l1.9 0.3l1.8 0.3l1.8 0.3l1.8 0.3l1.9 0.4l1.8 0.3l1.9 0.4l1.8 0.4l1.9 0.3l1.7 0.4l1.8 0.4l1.8 0.3l1.9 0.4l1.8 0.4l1.9 0.4l1.8 0.4l1.9 0.3l1.8 0.4l1.9 0.3l1.7 0.2l1.8 0.3l1.8 0.2l1.8 0.2l1.9 0.1l1.9 0.2l1.9 0.1l1.9 0.1l1.9 0.1l1.8 0.1l2 0.2l1.9 0l2 0.1l2.1 0.1l2 0.1l2 0.1l2 0l2 0.1l1.9 -0l2 -0l1.9 0l2 0l1.9 0l2 -0l1.9 -0l2 -0.1l1.9 0l2 -0l2 -0l2 -0.1l2.1 0l2 -0l2 -0.1l1.9 -0l1.8 -0.1l1.9 -0.1l1.9 -0.1l1.9 -0.1l1.9 -0.1l1.9 -0.1l1.8 -0.2l1.8 -0.2l1.8 -0.2l1.8 -0.3l1.8 -0.3l1.8 -0.4l1.9 -0.4l1.8 -0.5l1.9 -0.5l1.9 -0.5l1.8 -0.6l1.8 -0.6l1.9 -0.6l1.8 -0.7l1.9 -0.7l1.8 -0.7l1.8 -0.7l1.8 -0.6l1.7 -0.7l1.6 -0.7l1.7 -0.6l1.6 -0.7l1.6 -0.7l1.7 -0.6l1.6 -0.6l1.6 -0.5l1.6 -0.5l1.5 -0.5l1.6 -0.6l1.5 -0.7l1.6 -0.7l1.7 -0.9l1.7 -0.8l1.7 -0.8l1.7 -0.8l1.8 -0.8l1.7 -0.8l1.8 -0.8l1.9 -0.8l1.8 -0.7l1.8 -0.7l1.9 -0.5l1.8 -0.6l1.9 -0.5l1.9 -0.4l1.9 -0.4l1.9 -0.4l2 -0.3l1.9 -0.2l1.9 -0.2l1.9 -0.1l1.9 0l1.9 0.1l1.8 0.1l1.9 0.1l1.8 0.3l1.9 0.2l1.9 0.3l1.9 0.4l1.9 0.3l1.8 0.4l1.8 0.4l1.8 0.4l1.7 0.5l1.8 0.4l1.8 0.5l1.7 0.5l1.8 0.6l1.8 0.5l1.8 0.5l1.8 0.4l1.8 0.5l1.8 0.5l1.7 0.5l1.8 0.4l1.8 0.5l1.8 0.5l1.7 0.4l1.8 0.5l1.8 0.4l1.8 0.4l1.8 0.3l1.8 0.3l1.9 0.3l1.9 0.3l1.9 0.2l2 0.2l1.9 0.2l1.9 0.1l2 0.1l1.9 0.1l2 0.1l1.9 -0l2 -0.1l1.9 -0l2 -0.1l1.9 -0.1l2 -0.2l1.9 -0.2l2 -0.2l1.9 -0.2l2 -0.2l1.9 -0.3l2 -0.2l2 -0.3l2 -0.3l2 -0.4l2 -0.3l2 -0.3l1.9 -0.4l1.9 -0.2l1.9 -0.3l1.9 -0.3l1.9 -0.2l1.9 -0.3l1.9 -0.4l1.8 -0.4l1.8 -0.4l1.6 -0.4l1.8 -0.3l1.7 -0.3l1.8 -0.4l1.7 -0.4l1.8 -0.4l1.6 -0.6l1.7 -0.5l1.6 -0.7l1.6 -0.7l1.6 -0.7l1.5 -0.8l1.5 -0.9l1.5 -0.9l1.4 -0.9l1.4 -1l1.3 -1.1l1.2 -1.2l1.3 -1.2l1.1 -1.1l1.2 -1.2l1.1 -1.2l1.1 -1.2l1 -1.3l1.1 -1.4l1 -1.4l1 -1.5l1 -1.6l0.9 -1.6l0.9 -1.7l0.9 -1.7l1 -1.8l0.8 -1.8l0.9 -1.8l0.8 -1.8l0.8 -1.9l0.9 -2l0.8 -2.1l0.8 -2.1l0.8 -2.1l0.7 -2.1l0.7 -2l0.7 -2l0.7 -1.8l0.7 -1.9l0.6 -1.8l0.7 -1.9l0.6 -1.8l0.7 -1.9l0.6 -1.9l0.5 -1.8l0.6 -1.8l0.5 -1.8l0.5 -1.8l0.5 -1.8l0.4 -1.8l0.5 -1.8l0.5 -1.8l0.5 -1.8l0.4 -1.8l0.5 -1.8l0.4 -1.8l0.4 -1.8l0.5 -1.8l0.4 -1.9l0.4 -1.8l0.5 -1.8l0.4 -1.8l0.5 -1.9l0.5 -1.8l0.4 -1.8l0.5 -1.8l0.5 -1.9l0.5 -1.8l0.5 -1.8l0.6 -1.9l0.5 -1.8l0.5 -1.9l0.5 -1.8l0.4 -1.9l0.5 -1.8l0.4 -1.9l0.4 -1.9l0.4 -1.8l0.4 -1.9l0.4 -1.9l0.3 -1.8l0.4 -1.9l0.3 -1.9l0.3 -1.9l0.3 -1.8l0.4 -1.9l0.3 -1.9l0.3 -1.9l0.3 -1.9l0.3 -1.9l0.3 -1.8l0.3 -1.9l0.3 -1.9l0.3 -1.8l0.3 -1.9l0.3 -1.8l0.3 -1.9l0.3 -1.8l0.3 -1.9l0.3 -1.8l0.3 -1.9l0.3 -1.8l0.3 -1.9l0.3 -1.8l0.3 -1.9l0.3 -1.9l0.3 -1.8l0.3 -1.9l0.3 -1.8l0.3 -1.9l0.4 -1.8l0.3 -1.9l0.3 -1.9l0.2 -1.8l0.3 -1.9l0.3 -1.8l0.3 -1.9l0.3 -1.8l0.2 -1.9l0.3 -1.8l0.2 -1.9l0.3 -1.8l0.2 -1.9l0.3 -1.8l0.2 -1.9l0.3 -1.8l0.2 -1.9l0.2 -1.8l0.3 -1.9l0.3 -1.8l0.2 -1.9l0.3 -1.8l0.2 -1.9l0.3 -1.9l0.3 -1.8l0.3 -1.9l0.2 -1.8l0.3 -1.9l0.3 -1.8l0.3 -1.9l0.3 -1.9l0.2 -1.8l0.3 -1.9l0.3 -1.8l0.3 -1.9l0.3 -1.8l0.3 -1.9l0.3 -1.8l0.3 -1.9l0.3 -1.8l0.3 -1.8l0.3 -1.9l0.3 -1.8l0.4 -1.9l0.3 -1.8l0.3 -1.9l0.3 -1.8l0.3 -1.9l0.3 -1.9l0.3 -1.9l0.3 -2l0.4 -2l0.3 -2l0.3 -2l0.3 -2l0.3 -2l0.4 -2l0.3 -2l0.3 -1.9l0.3 -1.9l0.3 -1.8l0.2 -1.9l0.3 -2l0.4 -1.9l0.3 -2l0.3 -2.1l0.3 -1.9l0.2 -1.9l0.3 -1.9l0.3 -1.8l0.3 -1.9l0.2 -1.8l0.3 -1.9l0.3 -1.9l0.3 -2l0.2 -1.9l0.3 -2l0.3 -1.9l0.2 -2l0.3 -1.9l0.3 -2l0.2 -1.9l0.3 -2l0.4 -1.9l0.3 -2l0.4 -1.9l0.4 -1.9l0.3 -2l0.4 -1.9l0.4 -2l0.3 -1.9l0.4 -1.9l0.3 -2l0.4 -1.9l0.3 -2l0.3 -1.9l0.4 -2l0.3 -1.9l0.3 -2l0.4 -1.9l0.3 -2l0.3 -1.9l0.4 -2l0.3 -2l0.4 -2l0.4 -2.1l0.3 -2.2l0.2 -2l0.2 -2.1l0.3 -2l0.2 -1.8l0.3 -1.7l0.2 -1.6l0.5 -2.2l0.4 -1.7l0.4 -1.5l0.4 -1.4l0.5 -1.4l0.5 -1.5l0.5 -1.6l0.5 -1.7l0.6 -1.7l0.7 -1.7l0.7 -1.5l0.7 -1.5l1 -2l0.9 -1.8l1 -1.6l1 -1.4l1.5 -1.4l1.2 -0.9l1.5 -0.3l1.3 0.3l0.6 0.9l1.6 1.4l0.8 1.4l0.6 1.6l0.7 1.8l1.2 2l0.8 1.5l0.8 1.5l0.7 1.7l0.7 1.7l0.5 1.7l0.4 1.6l0.4 1.8l0.5 1.6l0.4 1.7l0.4 2l0.5 2.6l0.2 1.6l0.3 1.7l0.3 1.8l0.3 2l0.3 2.1l0.4 2l0.3 2.2l0.3 2.1l0.3 2l0.3 2l0.3 2l0.3 1.9l0.3 2l0.2 1.9l0.3 2l0.2 1.9l0.3 2l0.2 1.9l0.3 2l0.3 1.9l0.3 2l0.4 1.9l0.3 1.9l0.3 2l0.4 1.9l0.3 2l0.3 1.9l0.3 1.9l0.3 2l0.3 1.9l0.3 2l0.3 1.9l0.3 2l0.2 1.9l0.3 2l0.3 1.9l0.2 2l0.3 1.9l0.3 2l0.2 1.9l0.3 1.9l0.2 1.8l0.3 1.9l0.3 1.8l0.2 1.9l0.3 1.9l0.3 1.9l0.2 2.1l0.3 2l0.2 1.9l0.3 2l0.2 1.9l0.2 1.8l0.2 1.9l0.3 1.9l0.2 2l0.2 2l0.3 2l0.2 2l0.3 2l0.2 2l0.3 2l0.2 2l0.3 1.9l0.2 1.9l0.3 1.9l0.2 1.8l0.3 1.9l0.2 1.8l0.3 1.9l0.2 1.8l0.2 1.9l0.3 1.8l0.2 1.8l0.3 1.9l0.2 1.8l0.3 1.9l0.2 1.8l0.3 1.9l0.2 1.8l0.3 1.9l0.2 1.8l0.3 1.9l0.2 1.9l0.3 1.8l0.3 1.9l0.2 1.8l0.3 1.9l0.2 1.8l0.3 1.9l0.2 1.9l0.3 1.8l0.3 1.9l0.2 1.8l0.3 1.9l0.2 1.8l0.3 1.9l0.2 1.8l0.3 1.9l0.2 1.8l0.3 1.9l0.2 1.8l0.3 1.9l0.2 1.8l0.3 1.9l0.2 1.8l0.3 1.9l0.2 1.8l0.3 1.9l0.2 1.8l0.3 1.9l0.2 1.9l0.2 1.8l0.3 1.9l0.2 1.8l0.3 1.9l0.2 1.8l0.3 1.9l0.3 1.9l0.2 1.8l0.3 1.9l0.2 1.8l0.3 1.9l0.2 1.8l0.3 1.9l0.2 1.8l0.3 1.9l0.2 1.8l0.3 1.9l0.3 1.8l0.2 1.9l0.3 1.8l0.2 1.9l0.3 1.8l0.3 1.9l0.2 1.8l0.3 1.9l0.3 1.8l0.2 1.9l0.3 1.8l0.3 1.9l0.3 1.8l0.3 1.9l0.2 1.8l0.3 1.9l0.3 1.8l0.3 1.9l0.3 1.8l0.3 1.9l0.3 2l0.4 1.9l0.3 2l0.3 1.9l0.3 2l0.4 1.9l0.3 1.9l0.4 1.9l0.3 1.9l0.3 1.7l0.4 1.8l0.3 1.7l0.4 1.8l0.4 1.8l0.5 1.8l0.4 1.8l0.5 1.7l0.5 1.6l0.5 1.6l0.4 1.7l0.5 1.7l0.4 1.8l0.5 1.8l0.4 1.8l0.3 1.7l0.4 1.9l0.4 1.9l0.4 1.9l0.4 1.9l0.4 2l0.4 1.9l0.4 1.8l0.4 1.9l0.4 1.9l0.5 1.8l0.5 1.9l0.5 1.9l0.5 1.8l0.6 1.9l0.5 1.8l0.5 1.7l0.6 1.8l0.5 1.7l0.6 1.8l0.6 1.8l0.6 1.9l0.6 1.9l0.6 1.9l0.7 1.9l0.6 1.8l0.7 1.8l0.6 1.7l0.7 1.7l0.7 1.8l0.8 1.7l0.8 1.7l0.8 1.8l0.9 1.6l0.8 1.6l0.9 1.5l0.9 1.6l0.9 1.6l0.9 1.7l1 1.6l1 1.5l1 1.5l1 1.5l1.1 1.5l1.1 1.4l1.2 1.4l1.2 1.4l1.3 1.3l1.3 1.3l1.5 1.3l1.4 1.3l1.5 1.1l1.5 1.2l1.4 1l1.5 1l1.4 1.1l1.5 1l1.4 1l1.4 1l1.4 0.8l1.4 0.7l1.5 0.7l1.4 0.5l1.5 0.6l1.6 0.6l1.7 0.7l1.6 0.7l1.7 0.7l1.8 0.7l1.7 0.6l1.8 0.7l1.7 0.5l1.6 0.6l1.7 0.5l1.6 0.5l1.7 0.5l1.6 0.4l1.7 0.5l1.7 0.5l1.6 0.5l1.7 0.6l1.7 0.5l1.7 0.5l1.6 0.4l1.7 0.5l1.7 0.5l1.8 0.4l1.7 0.5l1.7 0.4l1.6 0.4l1.7 0.4l1.7 0.4l1.8 0.4l1.6 0.4l1.9 0.4l1.4 0.3l1 0.2l6 0"/>
</g>
<g fill="#000" shape-rendering="crispEdges">
<rect x="1448" y="1100" width="5" height="197"/>
<rect x="1237" y="532" width="4" height="77"/>
<rect x="1276" y="657" width="4" height="50"/>
<rect x="1074" y="969" width="4" height="188"/>
</g>
</svg>
<div class="t" style="left:153.85px;top:46.4029px;font-size:82.2px;transform-origin:0 69.5971px;transform:scale(1,1.045);">0.6</div>
<div class="t" style="left:153.85px;top:449.403px;font-size:82.2px;transform-origin:0 69.5971px;transform:scale(1,1.045);">0.4</div>
<div class="t" style="left:153.85px;top:852.403px;font-size:82.2px;transform-origin:0 69.5971px;transform:scale(1,1.045);">0.2</div>
<div class="t" style="left:153.85px;top:1255.4px;font-size:82.2px;transform-origin:0 69.5971px;transform:scale(1,1.045);">0.0</div>
<div class="t" style="left:469.4px;top:1337.4px;font-size:82.2px;transform-origin:0 69.5971px;transform:scale(1,1.045);">500</div>
<div class="t" style="left:923px;top:1337.4px;font-size:82.2px;transform-origin:0 69.5971px;transform:scale(1,1.045);">600</div>
<div class="t" style="left:1377.5px;top:1337.4px;font-size:82.2px;transform-origin:0 69.5971px;transform:scale(1,1.045);">700</div>
<div class="t" style="left:561.9px;top:1475.4px;font-size:82.2px;"><span style="transform-origin:0 69.5971px;transform:scaleY(1.06)">W</span>avelength, nm</div>
<div class="t" style="left:114px;top:803.387px;font-size:83.4px;transform-origin:0 70.6131px;transform:rotate(-90deg);"><span style="transform-origin:0 70.6131px;transform:scaleY(1.045)">A</span>bsorption</div>
<div class="t" style="left:1165px;top:441.403px;font-size:82.2px;transform-origin:0 69.5971px;transform:scale(1,1.045);">655</div>
<div class="t" style="left:1252px;top:565.403px;font-size:82.2px;transform-origin:0 69.5971px;transform:scale(1,1.045);">662</div>
<div class="t" style="left:1013px;top:868.403px;font-size:82.2px;transform-origin:0 69.5971px;transform:scale(1,1.045);">620</div>
</div>
</body>
</html>
